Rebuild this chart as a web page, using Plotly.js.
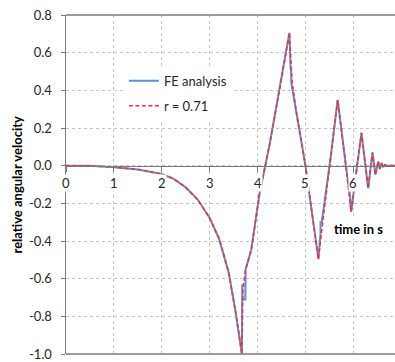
<!DOCTYPE html>
<html>
<head>
<meta charset="utf-8">
<script src="https://cdn.plot.ly/plotly-3.0.1.min.js"></script>
<style>html,body{margin:0;padding:0;background:#fff;}#chart{width:395px;height:362px;}</style>
</head>
<body>
<div id="chart"></div>
<script>
// FE analysis (blue) series
const feTime = [0, 0.5, 1.0, 1.5, 2.0, 2.25, 2.5, 2.75, 3.0, 3.2, 3.4, 3.55, 3.672, 3.68, 3.685, 3.745, 3.75, 3.87, 4.04, 4.25, 4.45, 4.665, 4.688, 4.698, 4.705, 4.80, 5.0, 5.27, 5.315, 5.315, 5.34, 5.53, 5.673, 5.844, 5.935, 5.94, 5.955, 6.054, 6.17, 6.31, 6.40, 6.46, 6.52, 6.55, 6.59, 6.62, 6.66, 6.70, 6.87];
const feValue = [0, -0.001, -0.008, -0.02, -0.044, -0.07, -0.115, -0.18, -0.278, -0.39, -0.57, -0.79, -1.0, -0.63, -0.71, -0.71, -0.55, -0.445, -0.15, 0.11, 0.39, 0.706, 0.52, 0.52, 0.44, 0.30, 0.0, -0.496, -0.36, -0.30, -0.30, 0.05, 0.35, 0.0, -0.17, -0.21, -0.245, -0.048, 0.174, -0.12, 0.07, -0.048, 0.023, -0.018, 0.014, -0.008, 0.004, 0.0, 0.0];
// r = 0.71 (red dashed) series
const rTime = [0, 0.5, 1.0, 1.5, 2.0, 2.25, 2.5, 2.75, 3.0, 3.2, 3.4, 3.55, 3.672, 3.694, 3.75, 3.87, 4.04, 4.25, 4.45, 4.665, 4.72, 4.80, 5.0, 5.27, 5.36, 5.53, 5.673, 5.844, 5.955, 6.054, 6.17, 6.31, 6.40, 6.46, 6.52, 6.55, 6.59, 6.62, 6.66, 6.70, 6.87];
const rValue = [0, -0.001, -0.008, -0.02, -0.044, -0.07, -0.115, -0.18, -0.278, -0.39, -0.57, -0.79, -1.0, -0.66, -0.553, -0.445, -0.15, 0.11, 0.39, 0.706, 0.45, 0.30, 0.0, -0.496, -0.30, 0.05, 0.35, 0.0, -0.245, -0.048, 0.174, -0.12, 0.07, -0.048, 0.023, -0.018, 0.014, -0.008, 0.004, 0.0, 0.0];

const seriesNames = ["FE analysis", "r = 0.71"];
const xTickVals = [0, 1, 2, 3, 4, 5, 6];
const xTickLabels = ["0", "1", "2", "3", "4", "5", "6"];
const yTickVals = [-1.0, -0.8, -0.6, -0.4, -0.2, 0.0, 0.2, 0.4, 0.6, 0.8];
const yTickLabels = ["-1.0", "-0.8", "-0.6", "-0.4", "-0.2", "0.0", "0.2", "0.4", "0.6", "0.8"];
const yTitle = "relative angular velocity";
const xTitle = "time in s";

const FONT = "Lato, 'Open Sans', sans-serif";
const TXT = "#262626";
const AXC = "#7a7a7a";
const GRID = "#c4c4c4";

const traces = [
  {x: feTime, y: feValue, name: seriesNames[0], mode: "lines", legendgroup: "a",
   line: {color: "#5b8fd3", width: 2}},
  {x: rTime, y: rValue, name: seriesNames[1], mode: "lines", legendgroup: "b",
   line: {color: "#f0343c", width: 1.6, dash: "4px,2.5px"}}
];

const annotations = xTickVals.map((v, i) => ({
  x: v, y: 0, xref: "x", yref: "y", text: xTickLabels[i], showarrow: false,
  yshift: -17, bgcolor: "#ffffff", borderpad: 0,
  font: {family: FONT, size: 13, color: TXT}
}));
annotations.push({
  x: 6.10, y: -0.335, xref: "x", yref: "y", text: "<b>" + xTitle + "</b>", showarrow: false,
  bgcolor: "#ffffff", font: {family: FONT, size: 13, color: "#000"}
});
annotations.push({
  x: 0, y: 0.5, xref: "paper", yref: "paper", text: "<b>" + yTitle + "</b>", showarrow: false,
  textangle: -90, xshift: -50, xanchor: "center", yanchor: "middle",
  font: {family: FONT, size: 13, color: "#000"}
});

const layout = {
  width: 395, height: 362,
  margin: {l: 66, r: 0, t: 15, b: 8, pad: 0},
  paper_bgcolor: "#fff", plot_bgcolor: "#fff",
  showlegend: true,
  legend: {x: 0.176, y: 0.85, xanchor: "left", yanchor: "top", bgcolor: "#fff",
           borderwidth: 0, tracegroupgap: 5, traceorder: "grouped",
           font: {family: FONT, size: 13, color: TXT}},
  xaxis: {range: [0, 6.87], anchor: "free", position: 1 / 1.8,
          showline: true, linecolor: AXC, linewidth: 1.5,
          ticks: "outside", ticklen: 5, tickcolor: AXC, tickwidth: 1,
          tickvals: xTickVals, showticklabels: false,
          showgrid: true, gridcolor: GRID, griddash: "3px,3px", gridwidth: 1,
          zeroline: false, fixedrange: true},
  yaxis: {range: [-1.0, 0.8], tickvals: yTickVals, ticktext: yTickLabels,
          showline: true, linecolor: AXC, linewidth: 1.5,
          ticks: "outside", ticklen: 4, tickcolor: AXC, ticklabelstandoff: 6,
          tickfont: {family: FONT, size: 13, color: TXT},
          showgrid: true, gridcolor: GRID, griddash: "3px,3px", gridwidth: 1,
          zeroline: false, fixedrange: true},
  shapes: [
    {type: "line", xref: "paper", yref: "paper", x0: 0, x1: 1, y0: 1, y1: 1, line: {color: AXC, width: 1.5}},
    {type: "line", xref: "paper", yref: "paper", x0: 0, x1: 1, y0: 0, y1: 0, line: {color: AXC, width: 1.5}}
  ],
  annotations: annotations
};

Plotly.newPlot("chart", traces, layout, {displayModeBar: false, staticPlot: true});
</script>
</body>
</html>
